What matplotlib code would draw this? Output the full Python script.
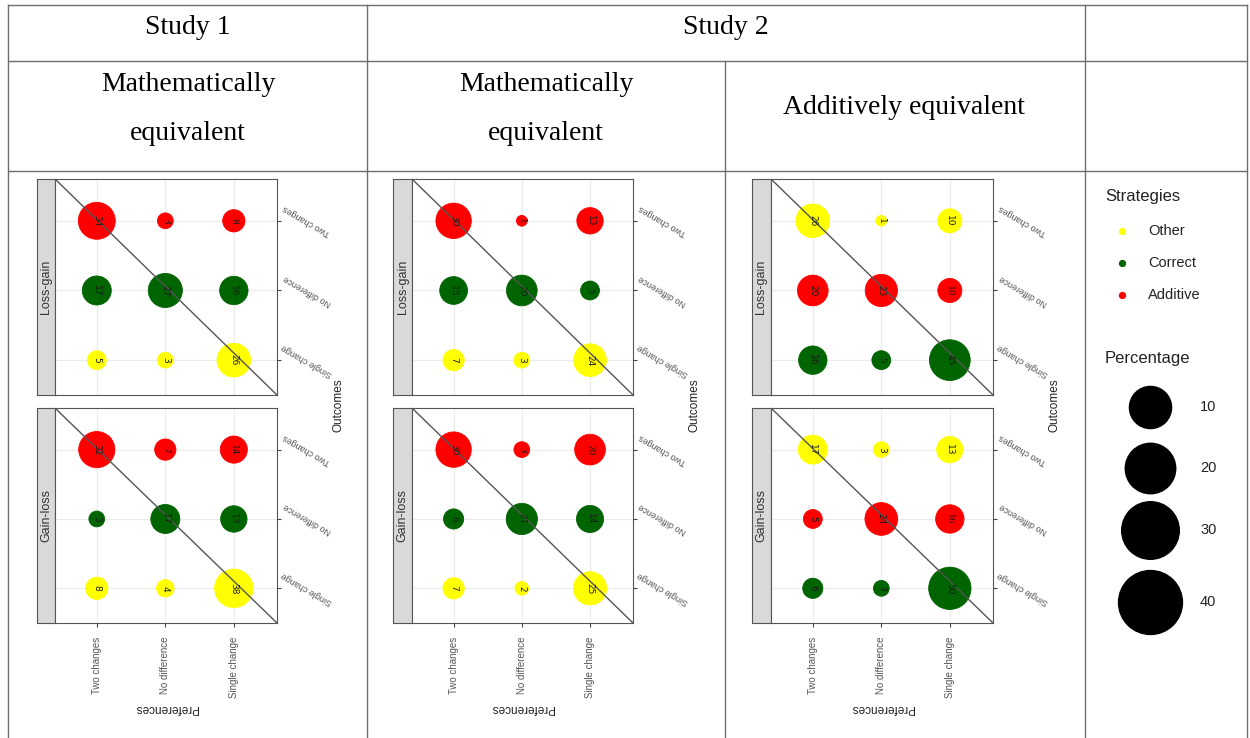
import matplotlib
matplotlib.use("Agg")
import matplotlib.pyplot as plt

# --- data -------------------------------------------------------------
outcomes = ["Two changes", "No difference", "Single change"]      # rows, top -> bottom
preferences = ["Two changes", "No difference", "Single change"]   # columns, left -> right
facets = ["Loss-gain", "Gain-loss"]

# strategy of each row (top -> bottom)
math_rows = ["Additive", "Correct", "Other"]
add_rows = ["Other", "Additive", "Correct"]

# percentages, rows top -> bottom, columns left -> right
s1_loss_gain = [[34, 3, 8], [17, 27, 16], [5, 3, 26]]
s1_gain_loss = [[32, 7, 14], [3, 17, 13], [8, 4, 38]]
s2m_loss_gain = [[30, 1, 13], [15, 20, 5], [7, 3, 24]]
s2m_gain_loss = [[30, 3, 20], [6, 21, 14], [7, 2, 25]]
s2a_loss_gain = [[26, 1, 10], [20, 23, 10], [16, 5, 45]]
s2a_gain_loss = [[17, 3, 13], [5, 24, 16], [6, 3, 50]]

strategies = ["Other", "Correct", "Additive"]
strategy_colors = {"Other": "#FFFF00", "Correct": "#006400", "Additive": "#FF0000"}
legend_pcts = [10, 20, 30, 40]

headers_top = ["Study 1", "Study 2"]
headers_sub = ["Mathematically\n\nequivalent", "Mathematically\n\nequivalent",
               "Additively equivalent"]

W, H = 1250, 738
fig = plt.figure(figsize=(12.5, 7.38), dpi=100)
fig.patch.set_facecolor("white")


def px_axes(x0, y0, x1, y1, **kw):
    return fig.add_axes([x0 / W, 1 - y1 / H, (x1 - x0) / W, (y1 - y0) / H], **kw)


def bubble(v):
    return 60 * v ** 0.7


# background "table"
bg = px_axes(0, 0, W, H)
bg.set_xlim(0, W)
bg.set_ylim(H, 0)
bg.axis("off")
line_kw = dict(color="#6e6e6e", lw=1.0)
for y in [5, 61, 171]:
    bg.plot([8, 1247], [y, y], **line_kw)
for x in [8, 367, 1085, 1247]:
    bg.plot([x, x], [5, H], **line_kw)
bg.plot([725, 725], [61, H], **line_kw)

serif = "Liberation Serif"
bg.text(188, 27, headers_top[0], family=serif, fontsize=20, ha="center", va="center")
bg.text(726, 27, headers_top[1], family=serif, fontsize=20, ha="center", va="center")
bg.text(188, 109, headers_sub[0], family=serif, fontsize=20, ha="center", va="center",
        linespacing=0.95)
bg.text(546, 109, headers_sub[1], family=serif, fontsize=20, ha="center", va="center",
        linespacing=0.95)
bg.text(904, 108, headers_sub[2], family=serif, fontsize=20, ha="center", va="center")

# --- panels -----------------------------------------------------------
columns = [
    (37, 55, 277, [s1_loss_gain, s1_gain_loss], math_rows),
    (393, 412, 633, [s2m_loss_gain, s2m_gain_loss], math_rows),
    (752, 771, 993, [s2a_loss_gain, s2a_gain_loss], add_rows),
]
rows_px = [(179, 395), (408, 623)]
XLIM = (0.39, 3.63)
YLIM = (0.5, 3.6)
sans = "Liberation Sans"

for strip_x, px0, px1, tables, row_strats in columns:
    for k, (py0, py1) in enumerate(rows_px):
        vals = tables[k]
        # strip
        st = px_axes(strip_x, py0, px0, py1)
        st.set_facecolor("#D9D9D9")
        st.set_xticks([])
        st.set_yticks([])
        for sp in st.spines.values():
            sp.set_color("#555555")
            sp.set_linewidth(0.8)
        st.text(0.5, 0.5, facets[k], rotation=90, ha="center", va="center",
                fontsize=9, color="#333333", family=sans, transform=st.transAxes)

        ax = px_axes(px0, py0, px1, py1)
        ax.set_xlim(*XLIM)
        ax.set_ylim(*YLIM)
        ax.set_xticks([1, 2, 3])
        ax.set_yticks([1, 2, 3])
        ax.set_xticklabels([])
        ax.set_yticklabels([])
        ax.yaxis.tick_right()
        ax.tick_params(axis="y", length=3, color="#444444")
        ax.tick_params(axis="x", length=3 if k == 1 else 0, color="#444444")
        ax.grid(color="#EBEBEB", lw=0.8)
        ax.set_axisbelow(True)
        for sp in ax.spines.values():
            sp.set_color("#555555")
            sp.set_linewidth(0.8)
        ax.plot([0, 1], [1, 0], transform=ax.transAxes, color="#555555", lw=1.0, zorder=3)

        for i, row in enumerate(vals):
            y = 3 - i
            col = strategy_colors[row_strats[i]]
            xs = [1, 2, 3]
            ax.scatter(xs, [y] * 3, s=[bubble(v) for v in row], color=col,
                       edgecolors=col, linewidths=0.6, zorder=2)
            for x, v in zip(xs, row):
                ax.text(x, y, str(v), rotation=-90, ha="center", va="center",
                        fontsize=6.5, color="#1a1a1a", zorder=4)

        # right-hand outcome labels (upside-down, slanted)
        for i, lab in enumerate(outcomes):
            ax.text(XLIM[1] + 0.44, 3 - i, lab, rotation=150, rotation_mode="anchor",
                    ha="center", va="center", fontsize=6.5, color="#555555",
                    family=sans, clip_on=False)

        if k == 1:
            for j, lab in enumerate(preferences):
                ax.text(j + 1, YLIM[0] - 0.2, lab, rotation=90, ha="center", va="top",
                        fontsize=7, color="#555555", family=sans, clip_on=False)
            ax.text(0.5, -0.395, "Preferences", rotation=180, ha="center", va="center",
                    fontsize=8.5, color="#222222", family=sans, transform=ax.transAxes,
                    clip_on=False)

    bg.text(px1 + 62, (rows_px[0][1] + rows_px[1][0]) / 2 + 4, "Outcomes", rotation=90,
            ha="center", va="center", fontsize=8.5, color="#222222", family=sans)

# --- legend -------------------------------------------------------------
bg.text(1105, 196, "Strategies", fontsize=12, family=sans, ha="left", va="center",
        color="#222222")
for i, name in enumerate(strategies):
    yy = 231 + 32 * i
    bg.scatter([1122], [yy], s=18, color=strategy_colors[name], zorder=3)
    bg.text(1148, yy, name, fontsize=10.5, family=sans, ha="left", va="center",
            color="#222222")

bg.text(1105, 358, "Percentage", fontsize=12, family=sans, ha="left", va="center",
        color="#222222")
leg_y = [407, 468, 530, 602]
for v, yy in zip(legend_pcts, leg_y):
    bg.scatter([1150], [yy], s=520 + 40 * v, color="black", zorder=3)
    bg.text(1200, yy, str(v), fontsize=10.5, family=sans, ha="left", va="center",
            color="#222222")

fig.savefig("out.png", dpi=100, facecolor="white")
